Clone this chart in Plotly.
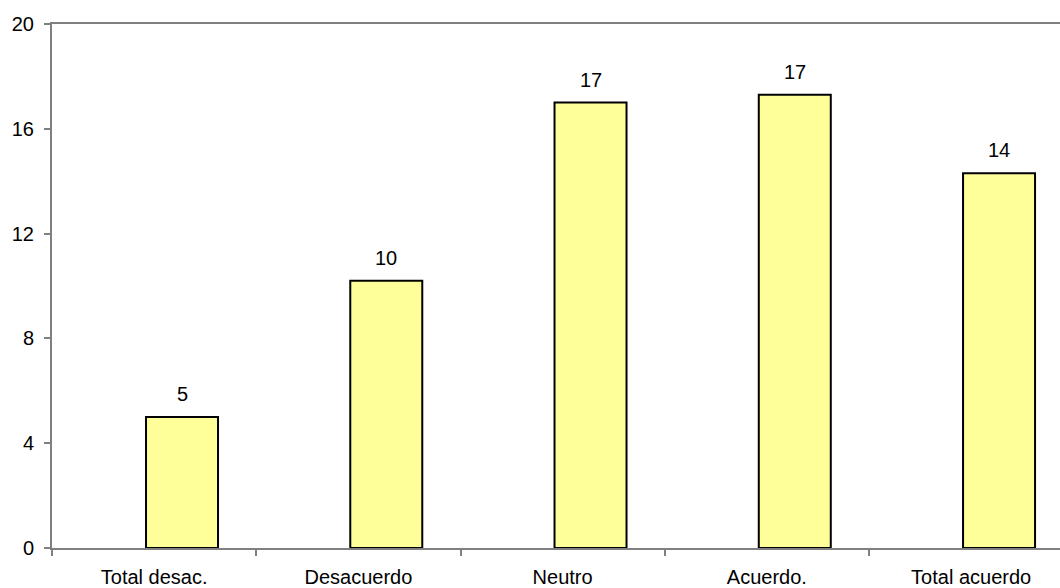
import plotly.graph_objects as go

# Survey responses per answer category
categories = ["Total desac.", "Desacuerdo", "Neutro", "Acuerdo.", "Total acuerdo"]
values = [5.0, 10.2, 17.0, 17.3, 14.3]
y_ticks = [0, 4, 8, 12, 16, 20]

FONT = "Arial, Liberation Sans, sans-serif"
AXIS_GREY = "#808080"

FIG_W, FIG_H = 1060, 588
MARGIN_L, MARGIN_R = 52, 0
X_RANGE = [-0.5, 4.435]
BAR_WIDTH = 0.3525
BAR_OFFSET = -0.0397

fig = go.Figure()
fig.add_trace(go.Bar(
    x=categories,
    y=values,
    width=BAR_WIDTH,
    offset=BAR_OFFSET,
    marker=dict(color="#FFFF99", line=dict(color="black", width=2)),
    hoverinfo="x+y",
))

# Value labels centred above each (offset) bar
cat_px = (FIG_W - MARGIN_L - MARGIN_R) / (X_RANGE[1] - X_RANGE[0])
label_shift = (BAR_OFFSET + BAR_WIDTH / 2) * cat_px
for c, v in zip(categories, values):
    fig.add_annotation(
        x=c, y=v, text=f"{v:.0f}", showarrow=False,
        xshift=label_shift, yanchor="bottom", yshift=10,
        font=dict(family=FONT, size=20, color="black"),
    )

fig.update_layout(
    width=FIG_W, height=FIG_H,
    margin=dict(l=MARGIN_L, r=MARGIN_R, t=24, b=40),
    paper_bgcolor="white", plot_bgcolor="white",
    showlegend=False,
    font=dict(family=FONT, size=20, color="black"),
)
fig.update_xaxes(
    type="category",
    range=X_RANGE,
    tickson="boundaries",
    ticks="outside", ticklen=6, tickwidth=2, tickcolor=AXIS_GREY,
    showline=True, linecolor=AXIS_GREY, linewidth=2, mirror=True,
    showgrid=False, zeroline=False,
    tickfont=dict(family=FONT, size=20, color="black"),
    ticklabelstandoff=10,
)
fig.update_yaxes(
    range=[0, 20],
    tickvals=y_ticks,
    ticks="outside", ticklen=6, tickwidth=2, tickcolor=AXIS_GREY,
    showline=True, linecolor=AXIS_GREY, linewidth=2,
    showgrid=False, zeroline=False,
    tickfont=dict(family=FONT, size=20, color="black"),
    ticklabelstandoff=6,
)

fig.write_html("out.html")
